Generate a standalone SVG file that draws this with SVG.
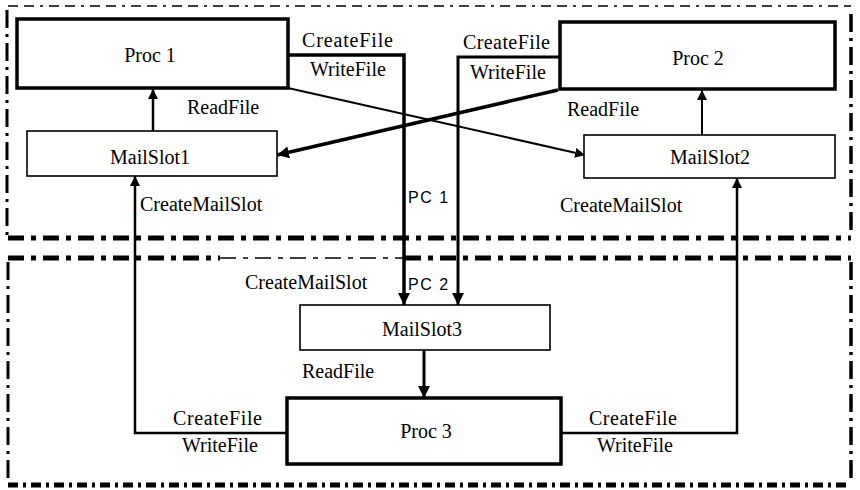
<svg xmlns="http://www.w3.org/2000/svg" width="860" height="490" viewBox="0 0 860 490">
<style>
text{font-family:"Liberation Serif","Times New Roman",serif;font-size:20px;fill:#000}
.pc{font-family:"Liberation Sans",Arial,sans-serif;font-size:16px;letter-spacing:1.5px}
.proc{fill:#fff;stroke:#000;stroke-width:3.5}
.slot{fill:#fff;stroke:#000;stroke-width:1.6}
.c{fill:none;stroke:#000;stroke-linejoin:miter}
.b{fill:none;stroke:#000}
</style>
<defs>
<marker id="ah" viewBox="0 0 10 10" refX="10" refY="5" markerWidth="10" markerHeight="10" markerUnits="userSpaceOnUse" orient="auto">
<path d="M0,0 L10,5 L0,10 z" fill="#000"/>
</marker>
<marker id="ahb" viewBox="0 0 10 10" refX="10" refY="5" markerWidth="12" markerHeight="12" markerUnits="userSpaceOnUse" orient="auto">
<path d="M0,0 L10,5 L0,10 z" fill="#000"/>
</marker>
</defs>
<g id="borders">
<line class="b" x1="8" y1="6" x2="851" y2="6" stroke-width="1.5" stroke-dasharray="10 6 10 6 3 6"/>
<line class="b" x1="7" y1="10" x2="7" y2="236" stroke-width="3" stroke-dasharray="18 6 3 6"/>
<line class="b" x1="851" y1="14" x2="851" y2="236" stroke-width="3.5" stroke-dasharray="18 6 3 6"/>
<line class="b" x1="8" y1="238" x2="851" y2="238" stroke-width="5" stroke-dasharray="16 7 5 7"/>
<line class="b" x1="8" y1="258" x2="220" y2="258" stroke-width="5" stroke-dasharray="16 7 5 7"/>
<line class="b" x1="220" y1="258" x2="405" y2="258" stroke-width="1.5" stroke-dasharray="16 7 5 7"/>
<line class="b" x1="405" y1="258" x2="851" y2="258" stroke-width="5" stroke-dasharray="16 7 5 7"/>
<line class="b" x1="8" y1="262" x2="8" y2="484" stroke-width="3" stroke-dasharray="18 6 3 6"/>
<line class="b" x1="851" y1="262" x2="851" y2="484" stroke-width="3.5" stroke-dasharray="18 6 3 6"/>
<line class="b" x1="8" y1="485" x2="851" y2="485" stroke-width="5" stroke-dasharray="10 5 3 5"/>
</g>
<g id="connectors">
<polyline class="c" points="288,55 404,55 404,305" stroke-width="3.5" marker-end="url(#ahb)"/>
<polyline class="c" points="560,57 458,57 458,305" stroke-width="3" marker-end="url(#ahb)"/>
<line class="c" x1="288" y1="88" x2="585" y2="155" stroke-width="2" marker-end="url(#ah)"/>
<line class="c" x1="558" y1="90" x2="277" y2="155" stroke-width="3.5" marker-end="url(#ahb)"/>
<line class="c" x1="153" y1="131" x2="153" y2="89" stroke-width="2.5" marker-end="url(#ah)"/>
<line class="c" x1="702" y1="135" x2="702" y2="90" stroke-width="2" marker-end="url(#ah)"/>
<polyline class="c" points="287,433 135,433 135,176" stroke-width="2.5" marker-end="url(#ah)"/>
<polyline class="c" points="561,433 737,433 737,178" stroke-width="2.5" marker-end="url(#ah)"/>
<line class="c" x1="424" y1="350" x2="424" y2="398" stroke-width="3" marker-end="url(#ahb)"/>
<text x="302" y="47" textLength="91" lengthAdjust="spacing">CreateFile</text>
<text x="310" y="76">WriteFile</text>
<text x="187" y="114">ReadFile</text>
<text x="140" y="211">CreateMailSlot</text>
<text x="463" y="49" textLength="87" lengthAdjust="spacing">CreateFile</text>
<text x="470" y="79">WriteFile</text>
<text x="567" y="116">ReadFile</text>
<text x="560" y="212">CreateMailSlot</text>
<text class="pc" x="408" y="203">PC 1</text>
<text class="pc" x="408" y="290">PC 2</text>
<text x="245" y="289">CreateMailSlot</text>
<text x="302" y="378">ReadFile</text>
<text x="173" y="425" textLength="89" lengthAdjust="spacing">CreateFile</text>
<text x="182" y="452">WriteFile</text>
<text x="589" y="425" textLength="88" lengthAdjust="spacing">CreateFile</text>
<text x="597" y="452">WriteFile</text>
</g>
<g id="proc1"><rect class="proc" x="17" y="19" width="271" height="69"/><text x="150" y="62" text-anchor="middle">Proc 1</text></g>
<g id="proc2"><rect class="proc" x="560" y="22" width="275" height="67"/><text x="698" y="65" text-anchor="middle">Proc 2</text></g>
<g id="mailslot1"><rect class="slot" x="27" y="131" width="250" height="45"/><text x="150" y="164" text-anchor="middle">MailSlot1</text></g>
<g id="mailslot2"><rect class="slot" x="584" y="135" width="251" height="43"/><text x="710" y="164" text-anchor="middle">MailSlot2</text></g>
<g id="mailslot3"><rect class="slot" x="300" y="305" width="250" height="45"/><text x="422" y="336" text-anchor="middle">MailSlot3</text></g>
<g id="proc3"><rect class="proc" x="287" y="398" width="274" height="66"/><text x="426" y="438" text-anchor="middle">Proc 3</text></g>
</svg>
